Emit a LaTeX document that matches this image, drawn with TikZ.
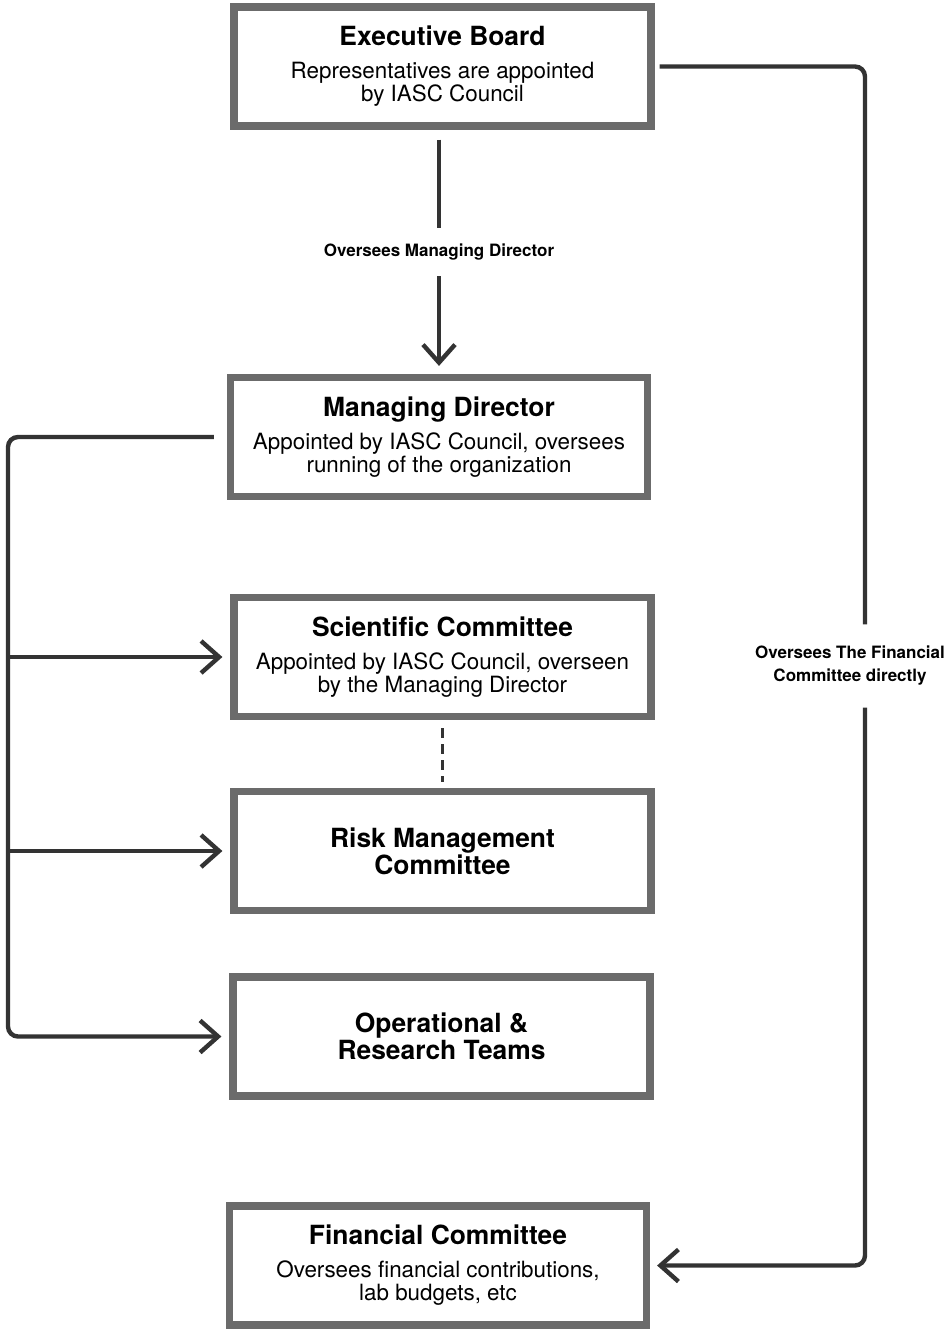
\documentclass[tikz,border=0pt]{standalone}
\usepackage{fontspec}
\setmainfont{TeX Gyre Heros}
\usetikzlibrary{arrows.meta}

\definecolor{boxgray}{HTML}{6B6B6B}
\definecolor{ink}{HTML}{333333}

\newcommand{\ttl}{\bfseries\fontsize{13.2}{13.5}\selectfont}
\newcommand{\sbt}{\mdseries\fontsize{11.2}{11.5}\selectfont}

\tikzset{
  unit/.style={draw=boxgray, line width=3.6pt, minimum width=208.5pt,
    minimum height=59.5pt, align=center, text=black, inner sep=0pt,
    font=\sbt},
  wire/.style={draw=ink, line width=2.2pt,
    -{Straight Barb[length=9pt,width=16pt]}},
  lbl/.style={fill=white, text=black, align=center, inner sep=3pt,
    font=\bfseries\fontsize{8.5}{11.5}\selectfont}
}

\begin{document}
\begin{tikzpicture}[x=0.5pt, y=-0.5pt]
\useasboundingbox (0,0) rectangle (945,1329);

\node (board) [unit] at (442.5,66.5)
    {{\ttl Executive Board}\\[5pt]Representatives are appointed\\by IASC Council};

\path (board)+(-3.5,370.5) node (director) [unit]
    {{\ttl Managing Director}\\[5pt]Appointed by IASC Council, oversees\\running of the organization};

\path (board)+(0,590.5) node (science) [unit]
    {{\ttl Scientific Committee}\\[5pt]Appointed by IASC Council, overseen\\by the Managing Director};

\path (science)+(0,194) node (risk) [unit, font=\ttl]
    {Risk Management\\Committee};

\path (risk)+(-1,185.5) node (teams) [unit, font=\ttl]
    {Operational \&\\Research Teams};

\path (board)+(-4.5,1199) node (finance) [unit]
    {{\ttl Financial Committee}\\[5pt]Oversees financial contributions,\\lab budgets, etc};

% board to director
\draw[wire, shorten <=5pt, shorten >=4pt] (director.north |- board.south)
    -- node[lbl, inner ysep=8pt] {Oversees Managing Director} (director.north);

% left bus
\coordinate (lbus) at (8,437);
\draw[wire, rounded corners=5pt, shorten <=6.5pt, shorten >=4pt]
    (director.west) -- (lbus) |- (teams.west);
\draw[wire, shorten >=4pt] (lbus |- science.west) -- (science.west);
\draw[wire, shorten >=4pt] (lbus |- risk.west) -- (risk.west);

\draw[draw=ink, line width=1.6pt, dash pattern=on 5pt off 3pt,
    shorten <=4pt, shorten >=3pt] (science.south) -- (risk.north);

% right bus
\coordinate (rbus) at (865,66.5);
\draw[wire, rounded corners=5pt, shorten <=2.5pt, shorten >=3.5pt]
    (board.east) -- (rbus)
    -- node[lbl, xshift=-7.5pt, inner ysep=11pt]
       {Oversees The Financial\\Committee directly} (rbus |- finance.east)
    -- (finance.east);

\end{tikzpicture}
\end{document}
